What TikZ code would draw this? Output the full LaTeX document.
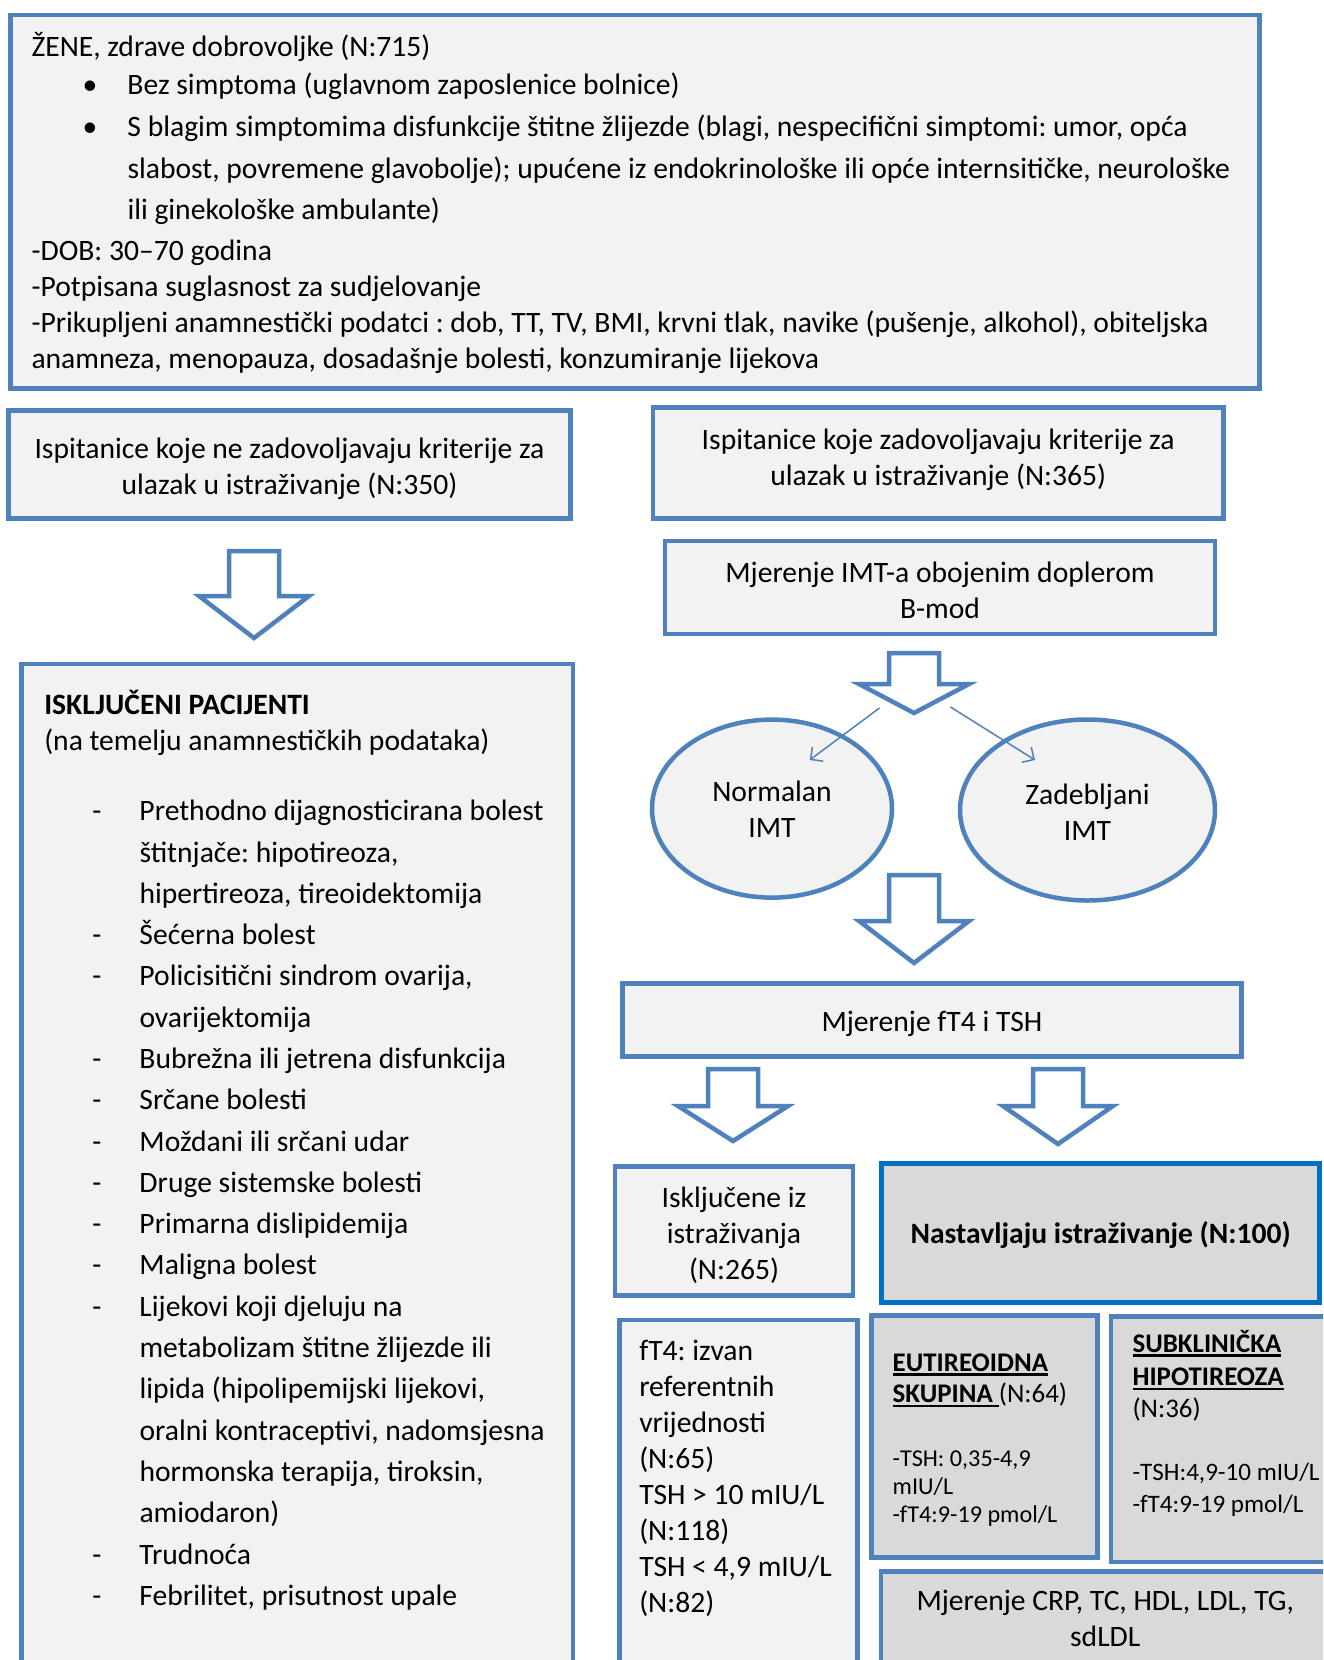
\documentclass[tikz,border=0pt]{standalone}
\usepackage{fontspec}
\setmainfont{Carlito}
\usetikzlibrary{arrows.meta, shapes.geometric}
\frenchspacing

\definecolor{boxblue}{HTML}{4F81BD}
\definecolor{darkblue}{HTML}{0070C0}
\definecolor{lightfill}{HTML}{F2F2F2}
\definecolor{greyfill}{HTML}{D9D9D9}
\newcommand{\undl}[1]{\leavevmode\setbox0=\hbox{#1}\rlap{\rule[-4.4pt]{\wd0}{2.2pt}}\box0}

\begin{document}
\begin{tikzpicture}[x=1pt, y=-1pt,
    every node/.style={font=\fontsize{29.6}{36}\selectfont, execute at begin node=\strut, execute at end node=\strut},
    box/.style={draw=boxblue, line width=4.5pt, fill=lightfill, inner sep=0pt},
    greybox/.style={box, fill=greyfill},
    oval/.style={ellipse, draw=boxblue, line width=4.5pt, fill=lightfill, inner sep=0pt, align=center},
    blockarrow/.style={draw=boxblue, line width=4.5pt, fill=white},
    thinarrow/.style={draw=boxblue, line width=1.5pt, -{Straight Barb[length=9pt, width=18pt]}}]
    \clip (0,0) rectangle (1323,1660);

    \node[box, minimum width=1249pt, minimum height=373.6pt, text width=1207pt, align=flush left] (women) at (635,201.6) {\rule{0pt}{32.6pt}ŽENE, zdrave dobrovoljke (N:715)\\[2.1pt]
        \hspace*{51pt}\makebox[45pt][l]{\textbullet}Bez simptoma (uglavnom zaposlenice bolnice)\\[6.4pt]
        \hspace*{51pt}\makebox[45pt][l]{\textbullet}\mbox{S blagim simptomima disfunkcije štitne žlijezde (blagi, nespecifični simptomi: umor, opća}\\[5.2pt]
        \hspace*{96pt}\mbox{slabost, povremene glavobolje); upućene iz endokrinološke ili opće internsitičke, neurološke}\\[5.3pt]
        \hspace*{96pt}ili ginekološke ambulante)\\[5.3pt]
        -DOB: 30–70 godina\\
        -Potpisana suglasnost za sudjelovanje\\
        \mbox{-Prikupljeni anamnestički podatci : dob, TT, TV, BMI, krvni tlak, navike (pušenje, alkohol), obiteljska}\\
        anamneza, menopauza, dosadašnje bolesti, konzumiranje lijekova};

    \node[box, minimum width=562pt, minimum height=108pt, align=center] (notmet) at (289.5,464.6) {\rule{0pt}{34pt}Ispitanice koje ne zadovoljavaju kriterije za\\ulazak u istraživanje (N:350)};
    \node[box, minimum width=570.5pt, minimum height=111pt, align=center] (met) at (938.2,463) {Ispitanice koje zadovoljavaju kriterije za\\ulazak u istraživanje (N:365)\rule[-12pt]{0pt}{0pt}};
    \node[box, minimum width=550pt, minimum height=93pt, align=center] (imt) at (940,587.4) {\rule{0pt}{37.6pt}Mjerenje IMT-a obojenim doplerom\\B-mod};

    \node[box, anchor=north west, text width=505.5pt, inner xsep=23pt, inner ysep=25.8pt, align=flush left] (excluded) at (19,661.5) {\textbf{ISKLJUČENI PACIJENTI}\\
        (na temelju anamnestičkih podataka)\\[34pt]
        \def\arraystretch{1.147}%
        \begin{tabular}[t]{@{\hspace{48pt}}l@{\hspace{38.2pt}}l@{}}
            - & Prethodno dijagnosticirana bolest\\
              & štitnjače: hipotireoza,\\
              & hipertireoza, tireoidektomija\\
            - & Šećerna bolest\\
            - & Policisitični sindrom ovarija,\\
              & ovarijektomija\\
            - & Bubrežna ili jetrena disfunkcija\\
            - & Srčane bolesti\\
            - & Moždani ili srčani udar\\
            - & Druge sistemske bolesti\\
            - & Primarna dislipidemija\\
            - & Maligna bolest\\
            - & Lijekovi koji djeluju na\\
              & metabolizam štitne žlijezde ili\\
              & lipida (hipolipemijski lijekovi,\\
              & oralni kontraceptivi, nadomsjesna\\
              & hormonska terapija, tiroksin,\\
              & amiodaron)\\
            - & Trudnoća\\
            - & Febrilitet, prisutnost upale\rule[-60pt]{0pt}{0pt}
        \end{tabular}};

    \node[oval, minimum width=240pt, minimum height=178pt] (normal) at (772,808.6) {\rule{0pt}{33pt}Normalan\\IMT};
    \node[oval, minimum width=255pt, minimum height=181pt] (thick) at (1087.5,810) {\rule{0pt}{35pt}Zadebljani\\IMT};

    \node[box, minimum width=619pt, minimum height=73pt] (hormones) at (932,1019.8) {\rule{0pt}{33.6pt}Mjerenje fT4 i TSH};

    \node[box, minimum width=238pt, minimum height=129pt, align=center] (dropped) at (734,1231) {\rule{0pt}{35.4pt}Isključene iz\\istraživanja\\(N:265)};
    \node[greybox, draw=darkblue, minimum width=438pt, minimum height=139.4pt] (continued) at (1100.7,1233) {\rule{0pt}{31.6pt}\textbf{Nastavljaju istraživanje (N:100)}};

    \node[box, anchor=north west, text width=198pt, inner xsep=20pt, inner ysep=15.2pt, align=flush left] (outside) at (617,1317.7) {fT4: izvan\\referentnih\\vrijednosti\\(N:65)\\\mbox{TSH > 10 mIU/L}\\(N:118)\\\mbox{TSH < 4,9 mIU/L}\\(N:82)\rule[-80pt]{0pt}{0pt}};

    \node[greybox, text width=184pt, inner xsep=21pt, minimum height=242pt, align=flush left, font=\fontsize{26.9}{31.7}\selectfont] (euthyroid) at (984.7,1436.7) {\rule{0pt}{30pt}\undl{\textbf{EUTIREOIDNA}}\\
        \undl{\textbf{SKUPINA }}(N:64)\\[31.7pt]
        {\fontsize{24.2}{28.3}\selectfont -TSH: 0,35-4,9}\\[-3.4pt]
        {\fontsize{24.2}{28.3}\selectfont mIU/L}\\[-3.4pt]
        {\fontsize{24.2}{28.3}\selectfont -fT4:9-19 pmol/L}};

    \node[greybox, anchor=north west, text width=193pt, inner xsep=21.7pt, inner ysep=12.7pt, align=flush left, font=\fontsize{26.9}{33.3}\selectfont] (subclinical) at (1108.6,1314) {\undl{\textbf{SUBKLINIČKA}}\\
        \undl{\textbf{HIPOTIREOZA}}\\[-1.6pt]
        (N:36)\\[30pt]
        {\fontsize{25.1}{31.7}\selectfont -TSH:4,9-10 mIU/L}\\[-1.6pt]
        {\fontsize{25.1}{31.7}\selectfont -fT4:9-19 pmol/L}\rule[-37pt]{0pt}{0pt}};

    \node[greybox, anchor=north west, text width=429pt, inner xsep=10pt, inner ysep=13.8pt, align=flush center] (lipids) at (878.5,1569) {Mjerenje CRP, TC, HDL, LDL, TG,\\sdLDL\rule[-40pt]{0pt}{0pt}};

    \foreach \x/\y/\s/\t in {254/551/45/87, 914/653/31/60, 914/875/46/88, 733/1069/37/72, 1058/1069/37/75}
        \draw[blockarrow, shift={(\x,\y)}] (-25,0) -- (25,0) -- (25,\s) -- (55,\s) -- (0,\t) -- (-55,\s) -- (-25,\s) -- cycle;

    \coordinate (fromleft) at (879.5,708);
    \coordinate (fromright) at (950.5,707);
    \coordinate (intonormal) at (809.7,760);
    \coordinate (intothick) at (1035,760);
    \draw[thinarrow] (fromleft) -- (intonormal);
    \draw[thinarrow] (fromright) -- (intothick);
\end{tikzpicture}
\end{document}
